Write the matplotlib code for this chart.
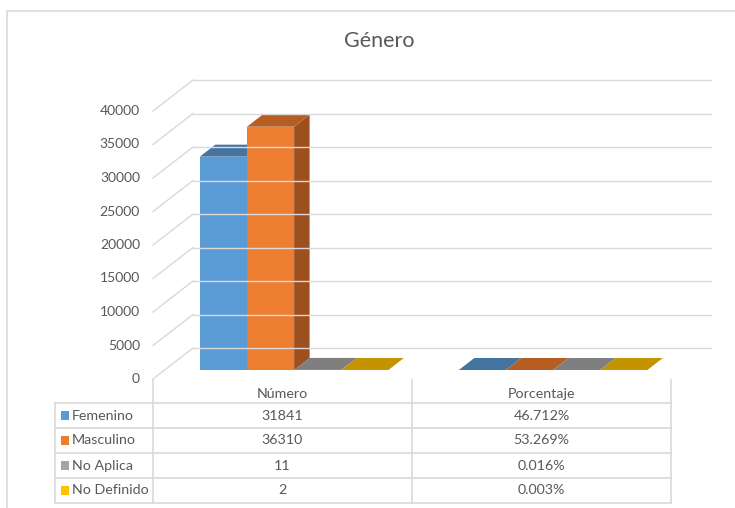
import matplotlib
matplotlib.use('Agg')
import matplotlib.pyplot as plt
from matplotlib.patches import Polygon, Rectangle

plt.rcParams['font.family'] = ['Lato', 'DejaVu Sans']

# data
title = 'Género'
categorias = ['Número', 'Porcentaje']
series = ['Femenino', 'Masculino', 'No Aplica', 'No Definido']
numero = [31841, 36310, 11, 2]
porcentaje = [0.46712, 0.53269, 0.00016, 0.00003]
ticks = [0, 5000, 10000, 15000, 20000, 25000, 30000, 35000, 40000]

front_col = ['#5B9BD5', '#ED7D31', '#A5A5A5', '#FFC000']
top_col = ['#44749F', '#B65E22', '#7F7F7F', '#C39300']
side_col = ['#3F6A92', '#9C501E', '#6E6E6E', '#A67D00']
txt = '#595959'
grid = '#D9D9D9'

W, H = 735, 508
fig = plt.figure(figsize=(W / 100, H / 100), dpi=100)

# background / table layer in pixel coords (top origin)
bg = fig.add_axes([0, 0, 1, 1])
bg.set_xlim(0, W)
bg.set_ylim(H, 0)
bg.axis('off')

# chart frame
bg.plot([7, 7, W], [H, 11, 11], color=grid, lw=1.2)
bg.text(379, 41, title, ha='center', va='center', fontsize=15.5, color=txt)

# front plane of the 3d chart
x0px, x1px = 153, 671
y0px, y1px = 379, 111
ax = fig.add_axes([x0px / W, (H - y0px) / H, (x1px - x0px) / W, (y0px - y1px) / H])
ax.set_xlim(-0.5, 1.5)
ax.set_ylim(0, 40000)
ax.axis('off')

# depth offsets in data units
DX = 40 / ((x1px - x0px) / 2)
DY = 31 * 40000 / (y0px - y1px)


def pt(x, v, d):
    return (x + d * DX, v + d * DY)


for v in ticks:
    ax.plot(*zip(pt(-0.5, v, 0), pt(-0.5, v, 1)), color=grid, lw=1, clip_on=False)
    ax.plot(*zip(pt(-0.5, v, 1), pt(1.5, v, 1)), color=grid, lw=1, clip_on=False)
    ax.text(-0.5 - 13 / 259, v, str(v), ha='right', va='center', fontsize=10,
            color=txt, clip_on=False)

w = 0.182
d0, d1 = 9 / 31, 21 / 31
for i, vals in enumerate([numero, porcentaje]):
    for j, v in enumerate(vals):
        xa = i - 2 * w + j * w
        xb = xa + w
        face = [pt(xa, 0, d0), pt(xb, 0, d0), pt(xb, v, d0), pt(xa, v, d0)]
        side = [pt(xb, 0, d0), pt(xb, 0, d1), pt(xb, v, d1), pt(xb, v, d0)]
        top = [pt(xa, v, d0), pt(xb, v, d0), pt(xb, v, d1), pt(xa, v, d1)]
        ax.add_patch(Polygon(face, closed=True, fc=front_col[j], ec='none', clip_on=False))
        ax.add_patch(Polygon(side, closed=True, fc=side_col[j], ec='none', clip_on=False))
        ax.add_patch(Polygon(top, closed=True, fc=top_col[j], ec='none', clip_on=False))

# data table
col_x = [55, 153, 412, 671]
row_y = [403, 428, 453, 478, 503]
tl = dict(color=grid, lw=1.2)
for x in col_x[1:]:
    bg.plot([x, x], [380, row_y[-1]], **tl)
bg.plot([col_x[0], col_x[0]], [row_y[0], row_y[-1]], **tl)
for y in row_y:
    bg.plot([col_x[0], col_x[-1]], [y, y], **tl)

for k, c in enumerate(categorias):
    bg.text((col_x[k + 1] + col_x[k + 2]) / 2, 394, c, ha='center', va='center',
            fontsize=10.3, color=txt)

for j, s in enumerate(series):
    yc = (row_y[j] + row_y[j + 1]) / 2
    bg.add_patch(Rectangle((61, yc - 4.3), 8.5, 8.5, fc=front_col[j], ec='none'))
    bg.text(72, yc, s, ha='left', va='center', fontsize=10.3, color=txt)
    bg.text((col_x[1] + col_x[2]) / 2, yc, str(numero[j]), ha='center', va='center',
            fontsize=10.3, color=txt)
    bg.text((col_x[2] + col_x[3]) / 2, yc, f'{porcentaje[j] * 100:.3f}%', ha='center',
            va='center', fontsize=10.3, color=txt)

fig.savefig('out.png', dpi=100)
